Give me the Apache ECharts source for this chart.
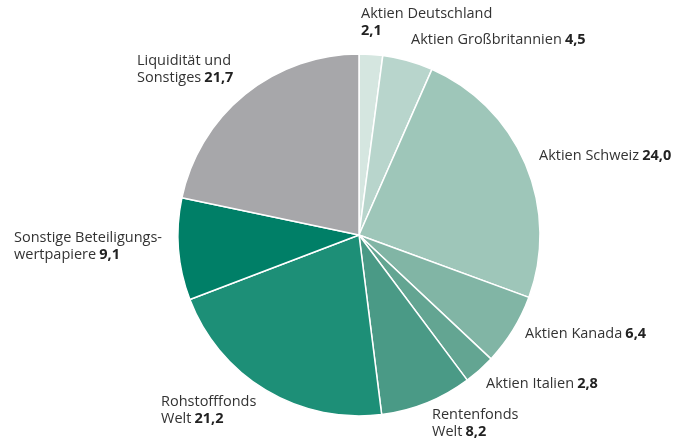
<!DOCTYPE html>
<html>
<head>
<meta charset="utf-8">
<script src="https://cdn.jsdelivr.net/npm/echarts@6/dist/echarts.min.js"></script>
<style>
  html, body { margin: 0; padding: 0; background: #fff; }
  #container { width: 678px; height: 446px; }
</style>
</head>
<body>
<div id="container"></div>
<script>
// Daten
var names = ['Aktien Deutschland', 'Aktien Großbritannien', 'Aktien Schweiz', 'Aktien Kanada',
             'Aktien Italien', 'Rentenfonds\nWelt', 'Rohstofffonds\nWelt',
             'Sonstige Beteiligungs-\nwertpapiere', 'Liquidität und\nSonstiges'];
var values = [2.1, 4.5, 24.0, 6.4, 2.8, 8.2, 21.2, 9.1, 21.7];
var colors = ['#d5e6e0', '#b8d5cc', '#9ec6b9', '#81b5a5', '#63a592', '#4a9a86', '#1d8f77', '#007f67', '#a7a7aa'];
// Beschriftung: Wert in neuer Zeile?
var valueOnNewLine = [true, false, false, false, false, false, false, false, false];
// Label-Positionen (links/oben)
var labelPos = [[361, 5], [411, 31], [539, 147], [525, 325], [486, 375], [432, 406], [161, 393], [14, 229], [137, 52]];

var dom = document.getElementById('container');
var myChart = echarts.init(dom);

var data = values.map(function (v, i) {
    return { name: names[i], value: v, itemStyle: { color: colors[i] } };
});

var option = {
    animation: false,
    textStyle: { fontFamily: 'Open Sans' },
    series: [
        {
            type: 'pie',
            center: [359, 235],
            radius: 181,
            startAngle: 90,
            clockwise: true,
            data: data,
            itemStyle: { borderColor: '#fff', borderWidth: 1.5 },
            labelLine: { show: false },
            label: {
                show: true,
                position: 'outside',
                overflow: 'none',
                formatter: function (p) {
                    var v = p.value.toFixed(1).replace('.', ',');
                    var sep = valueOnNewLine[p.dataIndex] ? '\n' : ' ';
                    var lines = p.name.split('\n');
                    var out = lines.map(function (l) { return '{n|' + l + '}'; }).join('\n');
                    return out + sep + '{b|' + v + '}';
                },
                rich: {
                    n: { fontSize: 14.5, color: '#333', fontFamily: 'Open Sans', lineHeight: 17 },
                    b: { fontSize: 14.5, color: '#222', fontWeight: 'bold', fontFamily: 'Open Sans', lineHeight: 17 }
                }
            },
            labelLayout: function (params) {
                var p = labelPos[params.dataIndex];
                return { x: p[0], y: p[1], align: 'left', verticalAlign: 'top' };
            },
            emphasis: { disabled: true }
        }
    ]
};
myChart.setOption(option, true);
</script>
</body>
</html>
